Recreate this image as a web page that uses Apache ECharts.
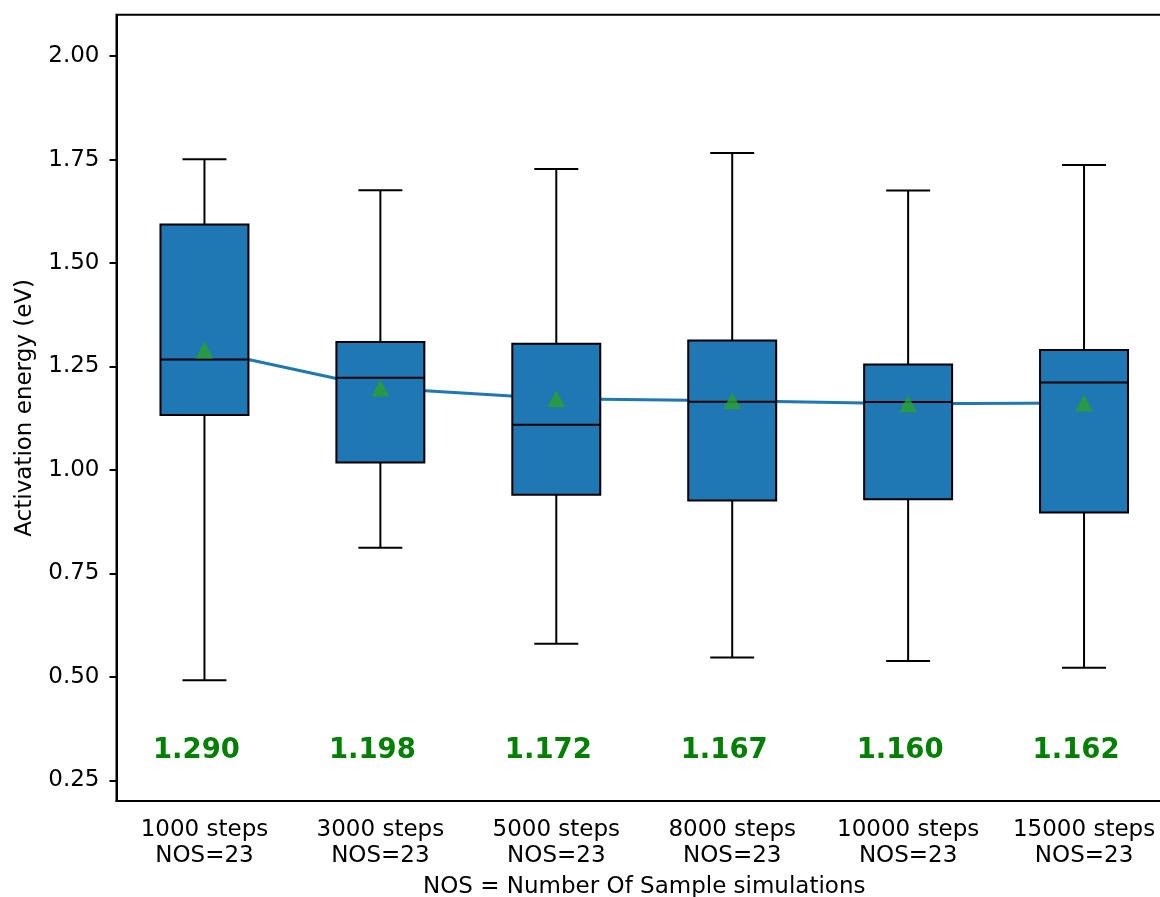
<!DOCTYPE html>
<html><head><meta charset="utf-8">
<script src="https://cdn.jsdelivr.net/npm/echarts@6/dist/echarts.min.js"></script>
<style>html,body{margin:0;padding:0;background:#fff}#chart{width:1160px;height:897px}</style>
</head><body><div id="chart"></div>
<script>
// ---- data ----
const categories = ['1000 steps\nNOS=23', '3000 steps\nNOS=23', '5000 steps\nNOS=23', '8000 steps\nNOS=23', '10000 steps\nNOS=23', '15000 steps\nNOS=23'];
const whiskerLow  = [0.492, 0.812, 0.580, 0.547, 0.538, 0.522];
const q1          = [1.133, 1.018, 0.940, 0.926, 0.929, 0.897];
const median      = [1.267, 1.223, 1.109, 1.165, 1.164, 1.211];
const q3          = [1.593, 1.309, 1.305, 1.313, 1.255, 1.290];
const whiskerHigh = [1.751, 1.676, 1.727, 1.766, 1.675, 1.737];
const means       = [1.290, 1.198, 1.172, 1.167, 1.160, 1.162];
const meanLabelY  = 0.3;
const yTicks      = [0.25, 0.50, 0.75, 1.00, 1.25, 1.50, 1.75, 2.00];

const FONT = 'DejaVu Sans';
const boxData = categories.map((c, i) => [i, whiskerLow[i], q1[i], median[i], q3[i], whiskerHigh[i]]);
const labelData = means.map((m, i) => [i, meanLabelY, m.toFixed(3)]);

function renderBox(params, api) {
  const i = api.value(0);
  const lo = api.coord([i, api.value(1)]);
  const b = api.coord([i, api.value(2)]);
  const m = api.coord([i, api.value(3)]);
  const t = api.coord([i, api.value(4)]);
  const hi = api.coord([i, api.value(5)]);
  const bw = api.size([1, 0])[0] * 0.5;
  const cw = bw / 2;
  const x = lo[0];
  const ls = { stroke: '#000', lineWidth: 2 };
  return {
    type: 'group',
    children: [
      { type: 'line', shape: { x1: x, y1: t[1], x2: x, y2: hi[1] }, style: ls },
      { type: 'line', shape: { x1: x, y1: b[1], x2: x, y2: lo[1] }, style: ls },
      { type: 'line', shape: { x1: x - cw / 2, y1: hi[1], x2: x + cw / 2, y2: hi[1] }, style: ls },
      { type: 'line', shape: { x1: x - cw / 2, y1: lo[1], x2: x + cw / 2, y2: lo[1] }, style: ls },
      { type: 'rect', shape: { x: x - bw / 2, y: t[1], width: bw, height: b[1] - t[1] },
        style: { fill: '#1f77b4', stroke: '#000', lineWidth: 2 } },
      { type: 'line', shape: { x1: x - bw / 2, y1: m[1], x2: x + bw / 2, y2: m[1] }, style: ls }
    ]
  };
}

function renderLabel(params, api) {
  const p = api.coord([api.value(0), api.value(1)]);
  return {
    type: 'text',
    x: p[0] - 8, y: p[1] + 5,
    style: {
      text: labelData[params.dataIndex][2],
      fill: '#008000',
      font: 'bold 27.5px "DejaVu Sans"',
      align: 'center', verticalAlign: 'bottom'
    }
  };
}

const chart = echarts.init(document.getElementById('chart'), null, { renderer: 'canvas' });
chart.setOption({
  backgroundColor: '#fff',
  animation: false,
  textStyle: { fontFamily: FONT },
  grid: { left: 116.5, top: 14.7, width: 1055.5, height: 786.3, containLabel: false, outerBoundsMode: 'none',
          show: true, borderColor: '#000', borderWidth: 2, backgroundColor: 'transparent' },
  xAxis: {
    type: 'category', data: categories, boundaryGap: true,
    axisLine: { lineStyle: { color: '#000', width: 2 } },
    axisTick: { alignWithLabel: true, length: 7, lineStyle: { color: '#000', width: 2 } },
    axisLabel: { color: '#000', fontSize: 23, fontFamily: FONT, lineHeight: 26, margin: 16, interval: 0 },
    splitLine: { show: false },
    name: 'NOS = Number Of Sample simulations', nameLocation: 'middle', nameGap: 75,
    nameTextStyle: { color: '#000', fontSize: 23, fontFamily: FONT }
  },
  yAxis: {
    type: 'value', min: 0.2, max: 2.1,
    axisLine: { show: true, lineStyle: { color: '#000', width: 2 } },
    axisTick: { show: true, length: 7, customValues: yTicks, lineStyle: { color: '#000', width: 2 } },
    axisLabel: { color: '#000', fontSize: 23, fontFamily: FONT, margin: 17, customValues: yTicks, formatter: v => v.toFixed(2) },
    splitLine: { show: false },
    name: 'Activation energy (eV)', nameLocation: 'middle', nameGap: 80, nameRotate: 90,
    nameTextStyle: { color: '#000', fontSize: 23, fontFamily: FONT }
  },
  series: [
    { type: 'line', data: means, z: 1, symbol: 'none', lineStyle: { color: '#1f77b4', width: 3 }, silent: true },
    { type: 'custom', data: boxData, renderItem: renderBox, z: 2, silent: true },
    { type: 'scatter', data: means, z: 3, symbol: 'triangle', symbolSize: [18, 17], itemStyle: { color: '#2ca02c' }, silent: true },
    { type: 'custom', data: labelData.map(d => [d[0], d[1]]), renderItem: renderLabel, z: 4, silent: true }
  ]
});
</script>
</body></html>
